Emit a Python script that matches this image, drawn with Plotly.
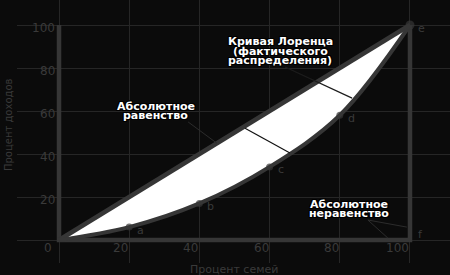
import plotly.graph_objects as go

# ---- data ----
families = [0, 20, 40, 60, 80, 100]          # % of families (cumulative)
income = [0, 6, 17, 34, 58, 100]             # % of income (cumulative)
point_labels = ["", "a", "b", "c", "d", "e"]
corner_label = "f"
tick_values = [0, 20, 40, 60, 80, 100]
tick_labels = ["0", "20", "40", "60", "80", "100"]
x_title = "Процент семей"
y_title = "Процент доходов"
label_equality = ["Абсолютное", "равенство"]
label_lorenz = ["Кривая Лоренца", "(фактического", "распределения)"]
label_inequality = ["Абсолютное", "неравенство"]

# ---- style ----
BG = "#0b0b0b"
GRID = "#262626"
THICK = "#363636"
DIM = "#3a3a3a"
OUTLINE = "1px 1px 0 #000, -1px -1px 0 #000, 1px -1px 0 #000, -1px 1px 0 #000, 0 1px 0 #000, 0 -1px 0 #000, 1px 0 0 #000, -1px 0 0 #000"

x0, x1 = families[0], families[-1]
y0, y1 = income[0], income[-1]

fig = go.Figure()
# invisible equality line (fill base)
fig.add_trace(go.Scatter(x=families, y=families, mode="lines",
                         line=dict(width=0, color=BG), hoverinfo="skip"))
# white area between equality line and Lorenz curve
fig.add_trace(go.Scatter(x=families, y=income, mode="lines", fill="tonexty",
                         fillcolor="white", line=dict(width=0, shape="spline", color="white"),
                         hoverinfo="skip"))
# frame (absolute inequality)
fig.add_trace(go.Scatter(x=[x0, x0, x1, x1], y=[y1, y0, y0, y1], mode="lines",
                         line=dict(width=4.5, color=THICK)))
# equality line
fig.add_trace(go.Scatter(x=families, y=families, mode="lines",
                         line=dict(width=4.5, color=THICK)))
# Lorenz curve
fig.add_trace(go.Scatter(x=families, y=income, mode="lines+markers",
                         line=dict(width=4, color=THICK, shape="spline"),
                         marker=dict(size=[0, 7, 7, 7, 7, 9], color=THICK,
                                     line=dict(width=0))))

ann = []
# point letters
for xv, yv, lab in zip(families, income, point_labels):
    if lab:
        ann.append(dict(x=xv, y=yv, text=lab, showarrow=False, xanchor="left",
                        yanchor="middle", xshift=6, yshift=-3,
                        font=dict(family="DejaVu Sans", size=11, color=DIM)))
ann.append(dict(x=x1, y=y0, text=corner_label, showarrow=False, xanchor="left",
                yanchor="middle", xshift=6, yshift=6,
                font=dict(family="DejaVu Sans", size=11, color=DIM)))
# tick labels (the shared "0" at the origin is shown once)
for tv, tl in zip(tick_values, tick_labels):
    if tv != x0:
        ann.append(dict(x=x0, y=tv, text=tl, showarrow=False, xanchor="right",
                        yanchor="middle", xshift=-2, yshift=-3,
                        font=dict(family="DejaVu Sans", size=12, color=DIM)))
    ann.append(dict(x=tv, y=y0, text=tl, showarrow=False, xanchor="right",
                    yanchor="middle", xshift=(-5 if tv == x0 else 1), yshift=-8,
                    font=dict(family="DejaVu Sans", size=12, color=DIM)))
# axis titles
ann.append(dict(x=0.5, y=-0.024, xref="paper", yref="paper", text=x_title,
                showarrow=False, xanchor="center", yanchor="middle",
                font=dict(family="DejaVu Sans", size=11, color=DIM)))
ann.append(dict(x=-0.021, y=0.528, xref="paper", yref="paper", text=y_title,
                showarrow=False, xanchor="center", yanchor="middle", textangle=-90,
                font=dict(family="DejaVu Sans", size=10, color=DIM)))

LABEL_FONT = dict(family="DejaVu Sans", size=11, color="white", weight="bold", shadow=OUTLINE)

def add_label(lines, cx, ys):
    for t, yy in zip(lines, ys):
        ann.append(dict(x=cx, y=yy, text=t, showarrow=False, xanchor="center",
                        yanchor="middle", font=LABEL_FONT))

add_label(label_equality, 27.6, [62.3, 57.7])
add_label(label_lorenz, 63.0, [92.1, 87.8, 83.5])
add_label(label_inequality, 82.6, [16.7, 12.1])

shapes = []
def seg(xa, ya, xb, yb, color="#2c2c2c", w=1):
    shapes.append(dict(type="line", x0=xa, y0=ya, x1=xb, y1=yb, xref="x", yref="y",
                       layer="above", line=dict(color=color, width=w)))

seg(36.8, 54.9, 45.0, 45.0)            # equality pointer
seg(64.4, 80.5, 83.5, 66.0, "#1c1c1c", 1.2)  # Lorenz pointer
seg(53.0, 52.0, 65.8, 40.5, "#111111", 1.2)  # gap marker
seg(88.0, 9.3, 93.7, 0.9)              # inequality pointers
seg(88.0, 9.3, 99.1, 6.0)

fig.update_layout(
    width=450, height=275,
    margin=dict(l=17, r=0, t=0, b=12),
    paper_bgcolor=BG, plot_bgcolor=BG,
    showlegend=False,
    annotations=ann, shapes=shapes,
    xaxis=dict(range=[-11.97, 111.4], tickvals=tick_values, showticklabels=False,
               showgrid=True, gridcolor=GRID, gridwidth=1, zeroline=False,
               showline=False, ticks="", fixedrange=True),
    yaxis=dict(range=[-10.7, 111.63], tickvals=tick_values, showticklabels=False,
               showgrid=True, gridcolor=GRID, gridwidth=1, zeroline=False,
               showline=False, ticks="", fixedrange=True),
)

fig.write_html("out.html", config={"displayModeBar": False})
